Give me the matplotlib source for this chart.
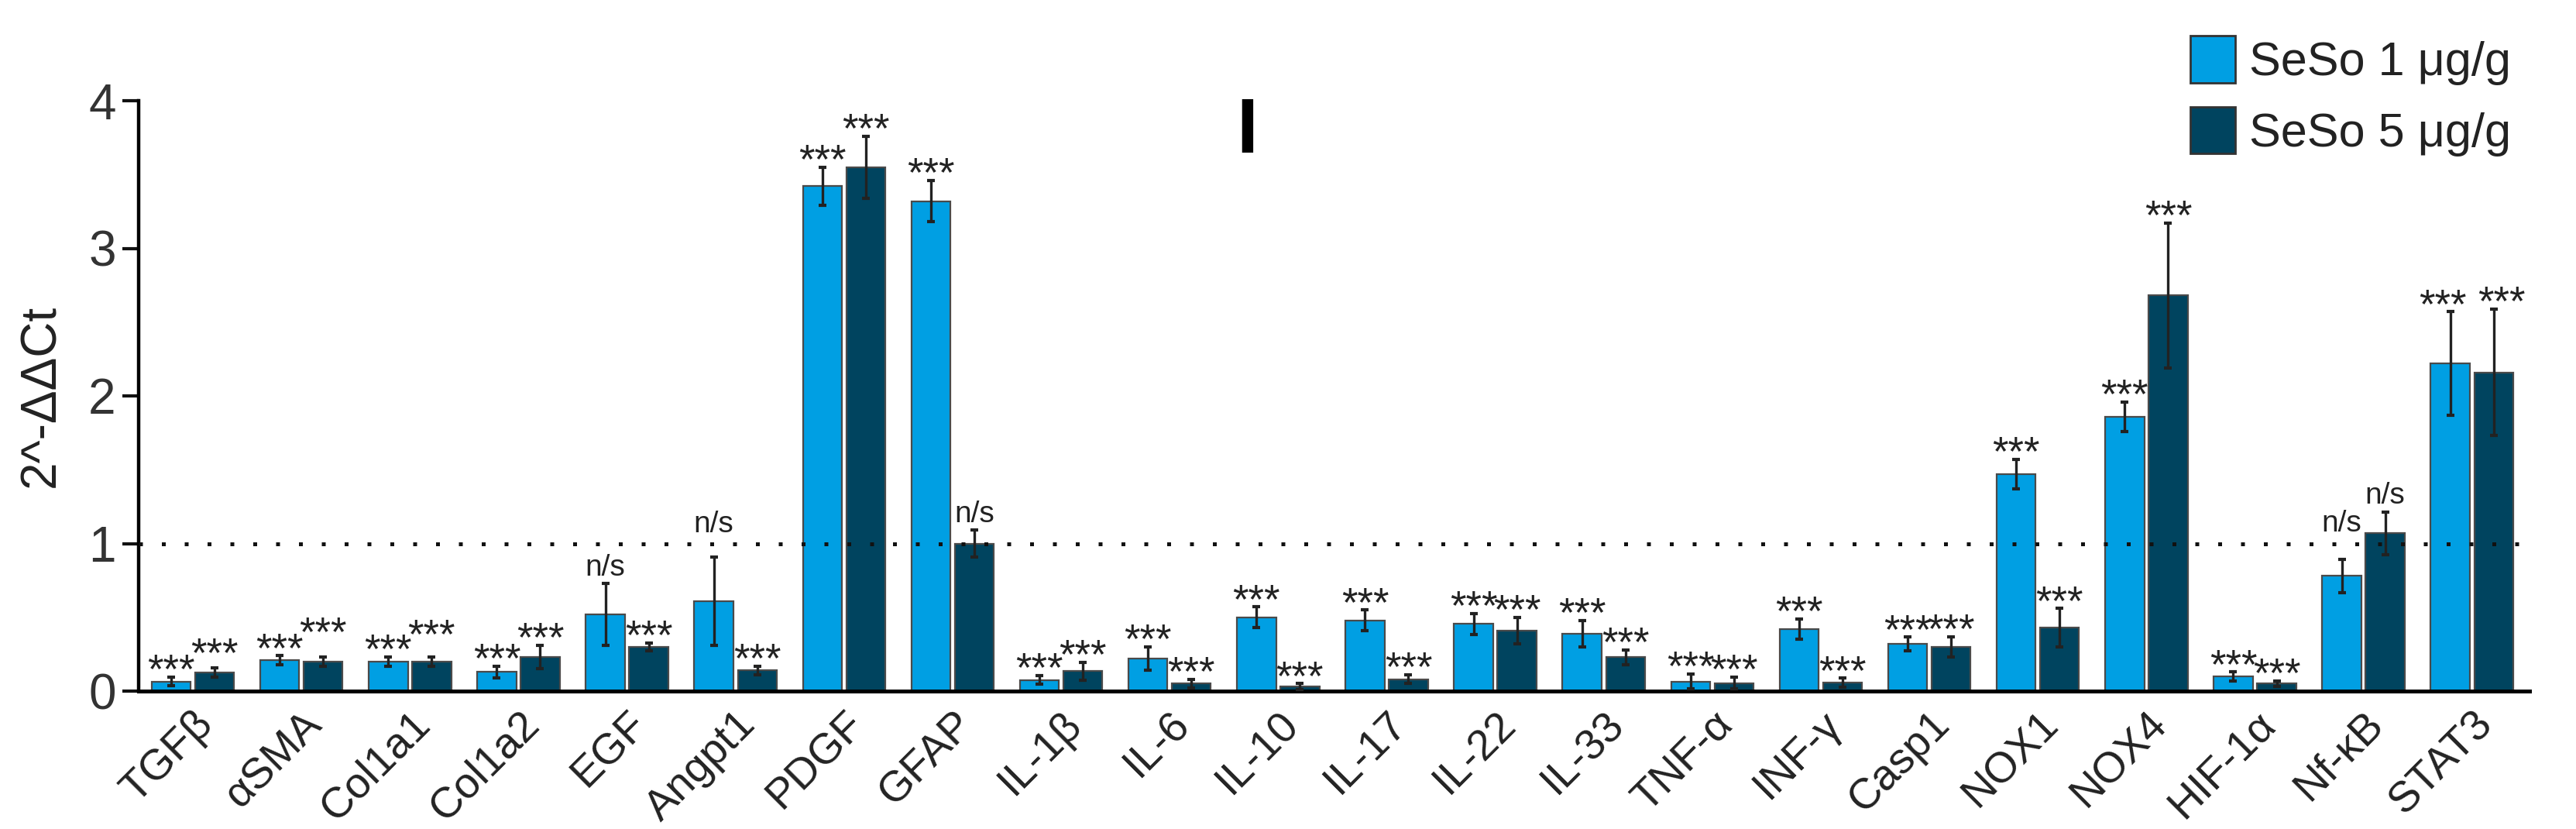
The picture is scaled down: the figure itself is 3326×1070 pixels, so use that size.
import matplotlib
matplotlib.use("Agg")
from matplotlib import pyplot as plt
from matplotlib.patches import Patch
from matplotlib.textpath import TextPath
from matplotlib.font_manager import FontProperties
import numpy as np

# gene names on the x axis
genes = ["TGFβ", "αSMA", "Col1a1", "Col1a2", "EGF", "Angpt1", "PDGF", "GFAP",
         "IL-1β", "IL-6", "IL-10", "IL-17", "IL-22", "IL-33", "TNF-α", "INF-γ",
         "Casp1", "NOX1", "NOX4", "HIF-1α", "Nf-κB", "STAT3"]

# SeSo 1 ug/g
low_mean = [0.065, 0.21, 0.20, 0.13, 0.52, 0.61, 3.42, 3.32,
            0.075, 0.22, 0.50, 0.48, 0.455, 0.39, 0.065, 0.42,
            0.32, 1.47, 1.86, 0.10, 0.78, 2.22]
low_err = [0.03, 0.03, 0.03, 0.04, 0.21, 0.30, 0.13, 0.14,
           0.03, 0.08, 0.07, 0.07, 0.07, 0.09, 0.05, 0.07,
           0.045, 0.10, 0.10, 0.03, 0.115, 0.35]
low_sig = ["***", "***", "***", "***", "n/s", "n/s", "***", "***",
           "***", "***", "***", "***", "***", "***", "***", "***",
           "***", "***", "***", "***", "n/s", "***"]

# SeSo 5 ug/g
high_mean = [0.125, 0.20, 0.20, 0.23, 0.30, 0.14, 3.55, 1.00,
             0.136, 0.05, 0.03, 0.08, 0.41, 0.23, 0.054, 0.057,
             0.30, 0.43, 2.68, 0.05, 1.07, 2.16]
high_err = [0.03, 0.03, 0.03, 0.08, 0.025, 0.03, 0.21, 0.09,
            0.06, 0.03, 0.02, 0.03, 0.09, 0.05, 0.04, 0.03,
            0.07, 0.13, 0.49, 0.02, 0.145, 0.43]
high_sig = ["***"] * 7 + ["n/s"] + ["***"] * 12 + ["n/s", "***"]

series_names = ["SeSo 1 μg/g", "SeSo 5 μg/g"]

light = "#009FE3"
dark = "#00445F"
plt.rcParams["font.family"] = ["Liberation Sans", "DejaVu Sans"]
plt.rcParams["text.color"] = "#222222"

fig = plt.figure(figsize=(33.26, 10.70), dpi=100)
ax = fig.add_axes([179 / 3326, 178 / 1070, 3087 / 3326, 762 / 1070])

x = np.arange(len(genes))
w = 0.36
off = 0.2

ax.bar(x - off, low_mean, w, color=light, edgecolor="#4a4a4a", linewidth=1.6, zorder=2)
ax.bar(x + off, high_mean, w, color=dark, edgecolor="#4a4a4a", linewidth=1.6, zorder=2)

ekw = dict(fmt="none", ecolor="#222222", elinewidth=2.4, capsize=3.5, capthick=3, zorder=3)
ax.errorbar(x - off, low_mean, yerr=low_err, **ekw)
ax.errorbar(x + off, high_mean, yerr=high_err, **ekw)

# reference line at 1
ax.axhline(1, color="#111111", lw=3.6, ls=(0, (1, 4.9)), zorder=4)

# significance marks; the star glyphs sit high in the line, so measure them
star_fs = 38
ns_fs = 28
star_low = TextPath((0, 0), "***", size=star_fs,
                    prop=FontProperties(family="Liberation Sans")).get_extents().y0
star_dy = 7.5 - star_low
ns_dy = 7.5

# a few labels are lifted (or pushed sideways) so they clear the neighbours and the dotted line
lift_low = {5: 0.11, 20: 0.13}
lift_high = {0: 0.05, 1: 0.12, 2: 0.1}
shift_x = {21: 0.07}
for i in range(len(genes)):
    sx = shift_x.get(i, 0.0)
    pairs = [(x[i] - off - sx, low_mean[i], low_err[i], low_sig[i], lift_low.get(i, 0.0)),
             (x[i] + off + sx, high_mean[i], high_err[i], high_sig[i], lift_high.get(i, 0.0))]
    for pos, m, e, s, extra in pairs:
        top = m + e + extra
        if s == "***":
            ax.annotate(s, (pos, top), xytext=(0, star_dy), textcoords="offset points",
                        ha="center", va="baseline", fontsize=star_fs, annotation_clip=False)
        else:
            ax.annotate(s, (pos, top), xytext=(0, ns_dy), textcoords="offset points",
                        ha="center", va="baseline", fontsize=ns_fs, annotation_clip=False)

ax.set_xlim(-0.5, 21.53)
ax.set_ylim(0, 4)
ax.set_yticks([0, 1, 2, 3, 4])
ax.set_yticklabels(["0", "1", "2", "3", "4"], fontsize=46)
ax.tick_params(axis="y", length=15, width=3, pad=6, colors="#111111", labelcolor="#333333")
ax.set_xticks(x)
ax.set_xticklabels(genes, rotation=45, ha="right", rotation_mode="anchor",
                   fontsize=40, color="#222222")
ax.tick_params(axis="x", length=0, pad=12)

for side in ["top", "right"]:
    ax.spines[side].set_visible(False)
ax.spines["left"].set_linewidth(3.2)
ax.spines["bottom"].set_linewidth(3.6)
ax.spines["left"].set_bounds(0, 4)

ax.set_ylabel("2^-ΔΔCt", fontsize=46, color="#222222")
ax.yaxis.set_label_coords(-0.031, 0.5)

# panel letter
fig.text(1610 / 3326, 1 - 171 / 1070, "I", fontsize=72, fontweight="bold",
         ha="center", va="center", color="black")

handles = [Patch(facecolor=light, edgecolor="#333333", linewidth=2),
           Patch(facecolor=dark, edgecolor="#333333", linewidth=2)]
fig.legend(handles, series_names, loc="upper left", bbox_to_anchor=(2828 / 3326, 1 - 46 / 1070),
           frameon=False, fontsize=44, handlelength=0.95, handleheight=1.15,
           handletextpad=0.3, labelspacing=0.45, borderpad=0, borderaxespad=0)

fig.savefig("out.png", dpi=100)
